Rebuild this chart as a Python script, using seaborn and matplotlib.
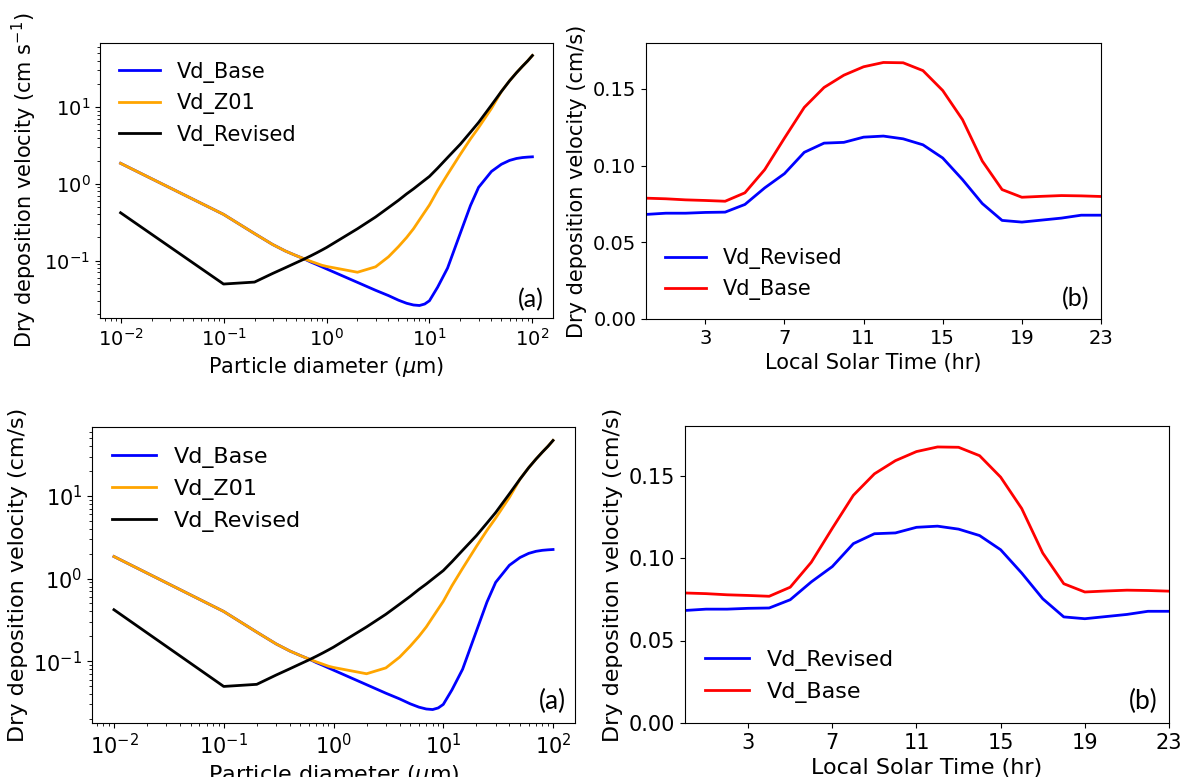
import matplotlib
matplotlib.use("Agg")
import matplotlib.pyplot as plt
import pandas as pd
import seaborn as sns

# ---- (a) deposition velocity vs particle size ----
diameter_um = [0.01, 0.1, 0.2, 0.3, 0.4, 0.5, 0.6, 0.7, 0.8, 0.9, 1, 2, 3, 4, 5, 6, 7, 8, 9,
               10, 12, 15, 20, 25, 30, 40, 50, 60, 70, 80, 90, 100]
vd_base = [1.85, 0.40, 0.225, 0.162, 0.133, 0.117, 0.106, 0.096, 0.089, 0.083, 0.078,
           0.052, 0.041, 0.035, 0.0305, 0.0278, 0.0264, 0.026, 0.0272, 0.030, 0.045, 0.08,
           0.23, 0.52, 0.90, 1.45, 1.80, 2.02, 2.14, 2.20, 2.23, 2.25]
vd_z01 = [1.85, 0.40, 0.225, 0.162, 0.133, 0.117, 0.106, 0.098, 0.092, 0.087, 0.084,
          0.0705, 0.083, 0.112, 0.152, 0.20, 0.26, 0.34, 0.43, 0.53, 0.82, 1.33,
          2.44, 3.84, 5.4, 9.6, 16.0, 22.0, 28.0, 34.0, 40.0, 47.0]
vd_revised = [0.42, 0.0495, 0.0525, 0.068, 0.081, 0.093, 0.104, 0.115, 0.126, 0.137, 0.148,
              0.26, 0.37, 0.49, 0.61, 0.74, 0.86, 0.99, 1.12, 1.25, 1.6, 2.2,
              3.3, 4.7, 6.3, 10.6, 16.0, 22.0, 28.0, 34.0, 40.0, 47.0]

# ---- (b) diurnal cycle of deposition velocity ----
solar_hour = list(range(24))
diurnal_revised = [0.0682, 0.0690, 0.0690, 0.0695, 0.0697, 0.0747, 0.0855, 0.0948, 0.1087,
                   0.1147, 0.1152, 0.1186, 0.1193, 0.1175, 0.1136, 0.1050, 0.0909, 0.0753,
                   0.0643, 0.0632, 0.0645, 0.0658, 0.0677, 0.0677]
diurnal_base = [0.0788, 0.0784, 0.0777, 0.0773, 0.0768, 0.0823, 0.0974, 0.1180, 0.1380,
                0.1510, 0.1590, 0.1645, 0.1673, 0.1671, 0.1620, 0.1490, 0.1300, 0.1030,
                0.0844, 0.0794, 0.0800, 0.0805, 0.0803, 0.0799]
hour_ticks = [3, 7, 11, 15, 19, 23]

size_names = ["Vd_Base", "Vd_Z01", "Vd_Revised"]
size_colors = {"Vd_Base": "blue", "Vd_Z01": "orange", "Vd_Revised": "black"}
diurnal_names = ["Vd_Revised", "Vd_Base"]
diurnal_colors = {"Vd_Revised": "blue", "Vd_Base": "red"}

size_df = pd.concat([
    pd.DataFrame({"d": diameter_um, "vd": v, "scheme": n})
    for n, v in zip(size_names, [vd_base, vd_z01, vd_revised])
], ignore_index=True)
diurnal_df = pd.concat([
    pd.DataFrame({"hour": solar_hour, "vd": v, "scheme": n})
    for n, v in zip(diurnal_names, [diurnal_revised, diurnal_base])
], ignore_index=True)

W, H = 1183, 777
fig = plt.figure(figsize=(W / 100, H / 100), dpi=100)


def place(x0, x1, y0, y1):
    return fig.add_axes([x0 / W, 1 - y1 / H, (x1 - x0) / W, (y1 - y0) / H])


def tag(ax, text, fs, dx, dy):
    ax.annotate(text, xy=(1, 0), xycoords="axes fraction", xytext=(-dx, dy),
                textcoords="offset pixels", ha="right", va="bottom",
                fontsize=fs, family=["Lato", "DejaVu Sans"])


def size_panel(ax, ylabel, fs_tick, fs_lab, tag_fs, tag_off):
    ax.set_xscale("log")
    ax.set_yscale("log")
    sns.lineplot(data=size_df, x="d", y="vd", hue="scheme", hue_order=size_names,
                 palette=size_colors, estimator=None, sort=False, linewidth=2, ax=ax)
    ax.set_xlabel(r"Particle diameter ($\mu$m)", fontsize=fs_lab)
    ax.set_ylabel(ylabel, fontsize=fs_lab)
    ax.tick_params(axis="both", which="major", labelsize=fs_tick)
    h, l = ax.get_legend_handles_labels()
    ax.legend(h, l, loc="upper left", frameon=False, fontsize=fs_lab)
    tag(ax, "(a)", tag_fs, *tag_off)


def diurnal_panel(ax, fs_tick, fs_lab, tag_fs, tag_off):
    sns.lineplot(data=diurnal_df, x="hour", y="vd", hue="scheme", hue_order=diurnal_names,
                 palette=diurnal_colors, estimator=None, sort=False, linewidth=2, ax=ax)
    ax.set_xlim(0, 23)
    ax.set_ylim(0, 0.18)
    ax.set_xticks(hour_ticks)
    ax.set_yticks([0.0, 0.05, 0.10, 0.15])
    ax.set_yticklabels(["0.00", "0.05", "0.10", "0.15"])
    ax.set_xlabel("Local Solar Time (hr)", fontsize=fs_lab)
    ax.set_ylabel("Dry deposition velocity (cm/s)", fontsize=fs_lab)
    ax.tick_params(axis="both", which="major", labelsize=fs_tick)
    h, l = ax.get_legend_handles_labels()
    ax.legend(h, l, loc="lower left", frameon=False, fontsize=fs_lab)
    tag(ax, "(b)", tag_fs, *tag_off)


ax1 = place(100, 553, 43, 318)
size_panel(ax1, r"Dry deposition velocity (cm s$^{-1}$)", 14, 15, 18, (9, 7))

ax2 = place(646, 1101, 43, 319)
diurnal_panel(ax2, 14, 15, 18, (12, 9))

ax3 = place(92, 575, 427, 723)
size_panel(ax3, "Dry deposition velocity (cm/s)", 15, 16, 19, (9, 9))

ax4 = place(685, 1169, 426, 723)
diurnal_panel(ax4, 15, 16, 19, (11, 9))

fig.savefig("out.png", dpi=100)
